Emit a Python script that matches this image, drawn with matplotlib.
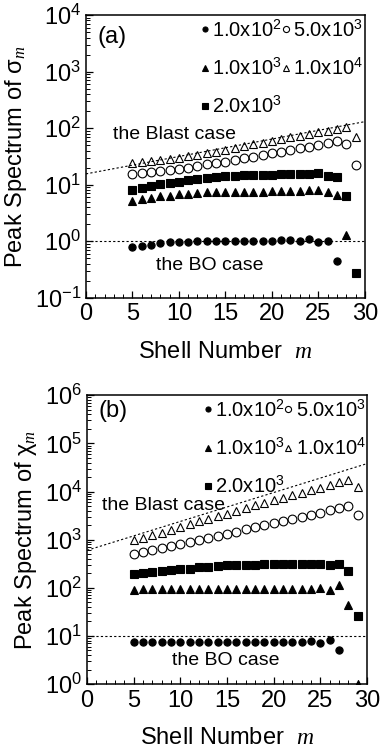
import numpy as np
import matplotlib
matplotlib.use("Agg")
import matplotlib.pyplot as plt

plt.rcParams['font.family'] = ['Liberation Sans', 'DejaVu Sans']
plt.rcParams['mathtext.fontset'] = 'custom'
plt.rcParams['mathtext.rm'] = 'Liberation Sans'
plt.rcParams['mathtext.it'] = 'Liberation Serif:italic'
plt.rcParams['axes.unicode_minus'] = False

# ---- panel (a): sigma_m ----
m_a_c1 = list(range(5, 28))
a_c1 = [0.79, 0.83, 0.87, 0.92, 0.95, 0.97, 0.98, 0.99, 1.0, 1.0, 1.0, 1.0, 1.0,
        1.02, 1.02, 1.02, 1.03, 1.03, 1.02, 1.1, 0.97, 1.02, 0.44]
m_a_t1 = list(range(5, 29))
a_t1 = [5.2, 5.5, 5.8, 6.2, 6.4, 6.7, 6.9, 7.1, 7.3, 7.4, 7.4, 7.5, 7.5, 7.5, 7.5,
        7.6, 7.6, 7.6, 7.7, 7.9, 8.1, 7.3, 6.5, 1.3]
m_a_s2 = list(range(5, 30))
a_s2 = [8.1, 8.9, 9.5, 10.2, 10.9, 11.3, 12.2, 12.7, 13.2, 13.9, 14.3, 14.5, 14.7,
        14.9, 15.1, 15.1, 15.3, 15.3, 15.3, 15.5, 16.0, 14.5, 13.9, 6.2, 0.27]
m_a_c5 = list(range(5, 30))
a_c5 = [15.5, 16.0, 16.6, 17.5, 18.3, 19.0, 20.0, 21.5, 23.0, 24.6, 25.6, 27.4, 29.4,
        31.4, 33.6, 36.0, 38.5, 41.0, 44.0, 47.0, 50.5, 54.0, 58.0, 52.6, 22.0]
m_a_t4 = list(range(5, 30))
a_t4 = [24, 25, 26.3, 27.4, 28.9, 30.1, 32.3, 34, 36, 38, 41, 44, 48.5, 52.6, 55.5,
        59.4, 63.7, 69, 72.8, 79, 84.6, 90, 97, 104, 71]
blast_a_x = [0, 30]
blast_a_y = [15.5, 130]
bo_a_x = [0, 30]
bo_a_y = [1.0, 1.0]

# ---- panel (b): chi_m ----
m_b_c1 = list(range(5, 28))
b_c1 = [7.6, 7.6, 7.6, 7.6, 7.6, 7.6, 7.6, 7.6, 7.6, 7.6, 7.6, 7.6, 7.6, 7.6, 7.6,
        7.6, 7.6, 7.6, 7.6, 7.8, 7.0, 8.2, 5.2]
m_b_t1 = list(range(5, 30))
b_t1 = [89, 92, 94, 95, 95, 95, 95, 95, 95, 95, 95, 95, 95, 95, 95, 95, 95, 95, 95,
        95, 97, 88, 113, 44, 1.0]
m_b_s2 = list(range(5, 30))
b_s2 = [189, 198, 208, 218, 232, 243, 251, 264, 272, 281, 290, 294, 299, 304, 309,
        309, 309, 309, 309, 309, 313, 290, 319, 221, 26]
m_b_c5 = list(range(5, 30))
b_c5 = [514, 556, 602, 673, 741, 828, 912, 1004, 1105, 1216, 1337, 1472, 1644, 1809,
        1990, 2190, 2450, 2690, 2960, 3310, 3650, 4070, 4550, 4930, 3210]
m_b_t4 = list(range(5, 30))
b_t4 = [972, 1090, 1230, 1400, 1620, 1840, 2090, 2410, 2740, 3100, 3480, 4010, 4550,
        5170, 5880, 6560, 7460, 8340, 9310, 10600, 12100, 13500, 15700, 17100, 12400]
blast_b_x = [0, 30]
blast_b_y = [600, 38000]
bo_b_x = [0, 30]
bo_b_y = [10, 10]

labels = [r'1.0x10$^2$', r'1.0x10$^3$', r'2.0x10$^3$', r'5.0x10$^3$', r'1.0x10$^4$']


def panel(ax, series, blast, bo, ylim, ylabel, tag, blast_txt, bo_txt, leg_y):
    # series order: 1e2 filled circle, 1e3 filled tri, 2e3 filled sq, 5e3 open circle, 1e4 open tri
    styles = [('o', 'k', 5.2), ('^', 'k', 5.2), ('s', 'k', 5.2), ('o', 'none', 6.3), ('^', 'none', 5.8)]
    for (mx, vals), (mk, fc, ms), lab in zip(series, styles, labels):
        ax.plot(mx, vals, ls='none', marker=mk, ms=ms, mfc=fc, mec='k', mew=0.8, label=lab)
    ax.plot(blast[0], blast[1], ls=(0, (2, 2)), color='k', lw=0.8)
    ax.plot(bo[0], bo[1], ls=(0, (2, 2)), color='k', lw=0.8)
    ax.set_yscale('log')
    ax.set_xlim(0, 30)
    ax.set_ylim(*ylim)
    ax.set_xticks([0, 5, 10, 15, 20, 25, 30])
    ax.set_xticks(np.arange(0, 31, 1), minor=True)
    ax.tick_params(which='both', direction='in', labelsize=17, top=False, right=False)
    ax.tick_params(which='major', length=5, width=0.9)
    ax.tick_params(which='minor', length=3, width=0.7)
    ax.tick_params(axis='x', pad=4)
    for s in ax.spines.values():
        s.set_linewidth(1.1)
    ax.set_xlabel(r'Shell Number  $m$', fontsize=17, labelpad=11)
    ax.set_ylabel(ylabel, fontsize=17, labelpad=4)
    ax.text(0.04, tag[1], tag[0], transform=ax.transAxes, fontsize=17, va='center')
    ax.text(blast_txt[0], blast_txt[1], 'the Blast case', fontsize=14, va='center')
    ax.text(bo_txt[0], bo_txt[1], 'the BO case', fontsize=14, va='center')
    leg = ax.legend(ncol=2, loc='upper right', bbox_to_anchor=(1.045, leg_y), frameon=False,
                    fontsize=14.5, handlelength=0.4, handletextpad=0.15, columnspacing=0.0,
                    labelspacing=0.85, markerscale=0.7, borderpad=0.2)
    return leg


fig = plt.figure(figsize=(3.82, 7.5), dpi=100)
ax1 = fig.add_axes([0.225, 0.603, 0.730, 0.377])
ax2 = fig.add_axes([0.228, 0.088, 0.733, 0.385])

panel(ax1,
      [(m_a_c1, a_c1), (m_a_t1, a_t1), (m_a_s2, a_s2), (m_a_c5, a_c5), (m_a_t4, a_t4)],
      (blast_a_x, blast_a_y), (bo_a_x, bo_a_y), (1e-1, 1e4),
      r'Peak Spectrum of $\mathrm{\sigma}_{m}$', ('(a)', 0.922),
      (2.9, 76), (7.5, 0.37), 1.035)
panel(ax2,
      [(m_b_c1, b_c1), (m_b_t1, b_t1), (m_b_s2, b_s2), (m_b_c5, b_c5), (m_b_t4, b_t4)],
      (blast_b_x, blast_b_y), (bo_b_x, bo_b_y), (1e0, 1e6),
      r'Peak Spectrum of $\mathrm{\chi}_{m}$', ('(b)', 0.945),
      (1.6, 5200), (9.1, 3.15), 1.035)

fig.savefig('out.png', dpi=100)
